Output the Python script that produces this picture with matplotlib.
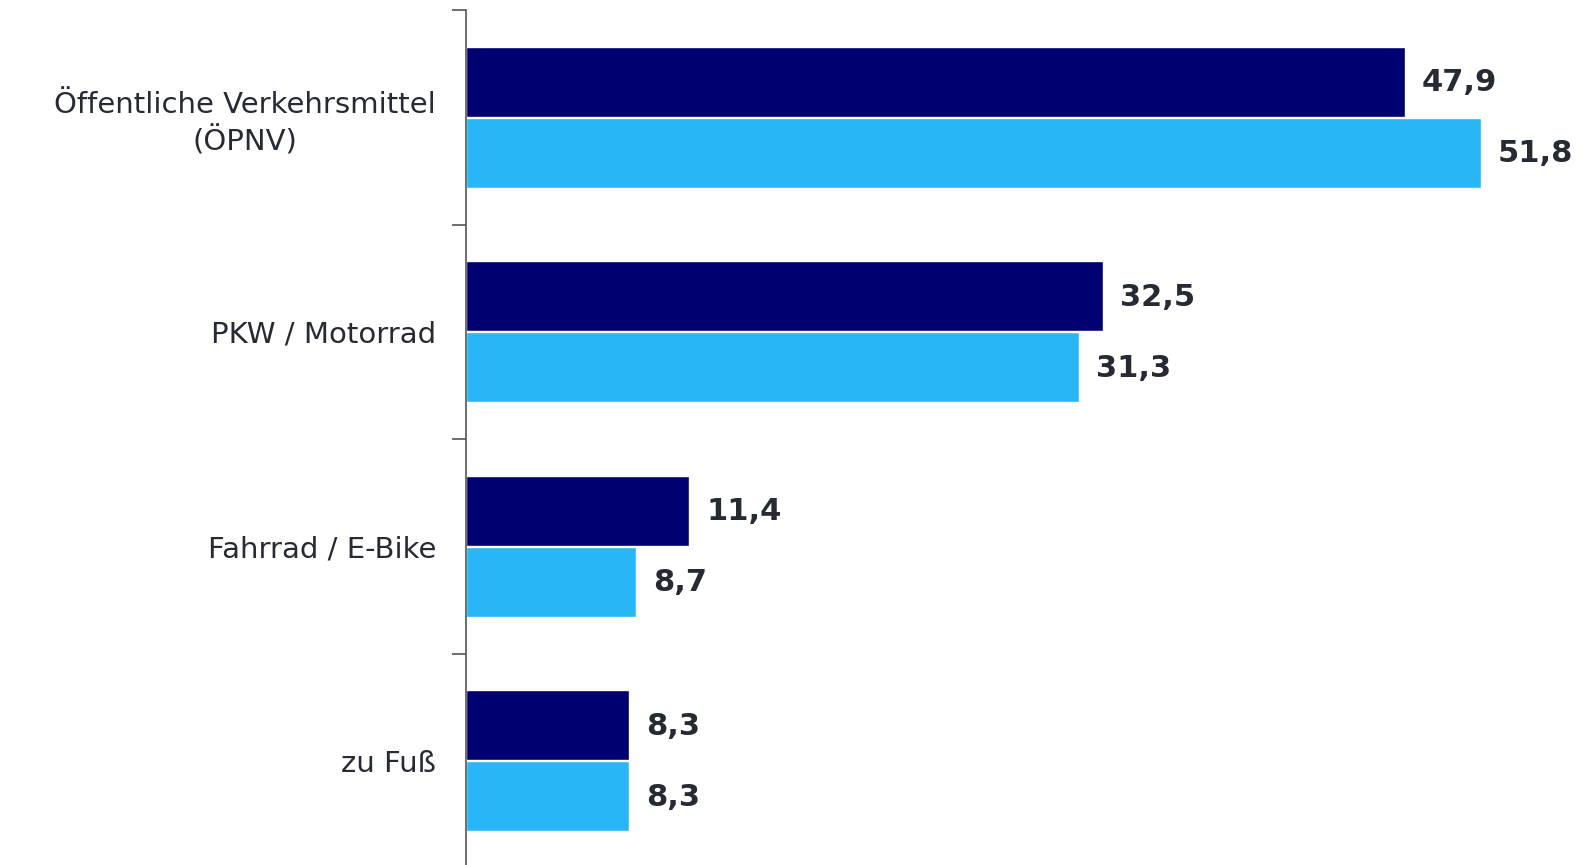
import matplotlib.pyplot as plt
import numpy as np

categories = ["Öffentliche Verkehrsmittel\n(ÖPNV)", "PKW / Motorrad", "Fahrrad / E-Bike", "zu Fuß"]
series_a = [47.9, 32.5, 11.4, 8.3]
series_b = [51.8, 31.3, 8.7, 8.3]

NAVY = "#000070"
LIGHT = "#29B6F6"
TEXT = "#262a33"

fig = plt.figure(figsize=(15.83, 8.65), dpi=100)
ax = fig.add_axes([466 / 1583, 0.0, 1 - 466 / 1583, 1 - 10 / 865])

y = np.arange(len(categories))
h = 0.325
bars_a = ax.barh(y - h / 2 - 0.003, series_a, height=h, color=NAVY, edgecolor="white", linewidth=1)
bars_b = ax.barh(y + h / 2 + 0.003, series_b, height=h, color=LIGHT, edgecolor="white", linewidth=1)

for bars, vals in ((bars_a, series_a), (bars_b, series_b)):
    for b, v in zip(bars, vals):
        ax.annotate(f"{v:.1f}".replace(".", ","), (b.get_width(), b.get_y() + b.get_height() / 2),
                    xytext=(17, -1), textcoords="offset pixels",
                    ha="left", va="center", fontsize=22, fontweight="bold", color=TEXT)

ax.set_xlim(0, 57)
ax.set_ylim(3.5 - 0.014, -0.5)

ax.set_yticks(y)
ax.set_yticklabels(categories, fontsize=21, color=TEXT, multialignment="center",
                   linespacing=1.3)
ax.set_yticks(np.arange(-0.5, 3.0, 1.0), minor=True)
ax.tick_params(axis="y", which="major", length=0, pad=21.5)
ax.tick_params(axis="y", which="minor", length=10, width=1.2, color="#555555")
ax.set_xticks([])

for s in ("top", "right", "bottom"):
    ax.spines[s].set_visible(False)
ax.spines["left"].set_color("#555555")
ax.spines["left"].set_linewidth(1.2)

fig.savefig("out.png", dpi=100)
